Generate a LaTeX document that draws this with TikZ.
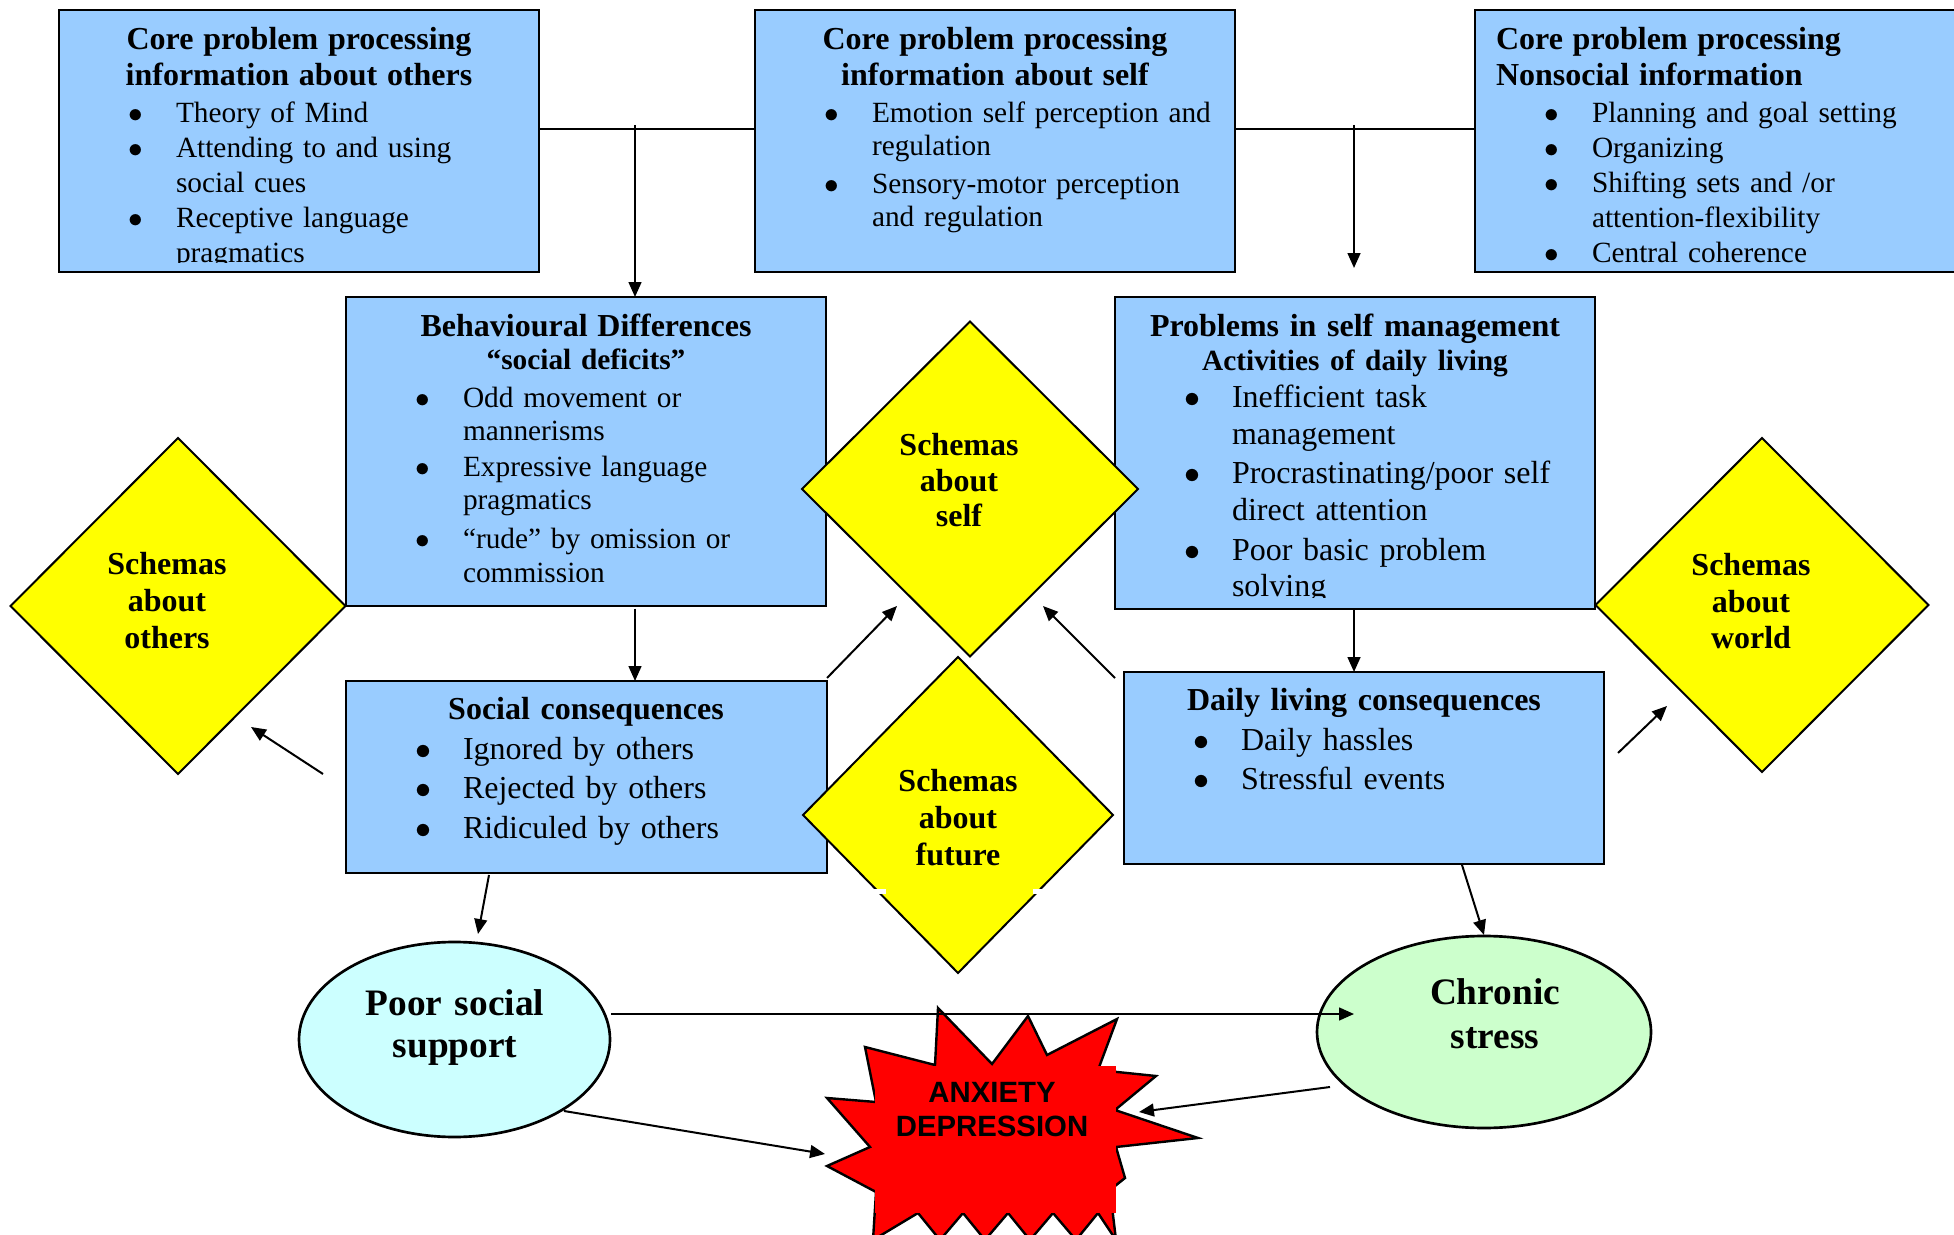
\documentclass[tikz,border=0pt]{standalone}
\usepackage{fontspec}
\setmainfont{Liberation Serif}
\newfontfamily\arialfont{Liberation Sans}
\usetikzlibrary{shapes.geometric,arrows.meta}
\newlength\px \setlength{\px}{0.375pt}
\newlength\BI \setlength{\BI}{69\px}
\newlength\BW \setlength{\BW}{48\px}
\newlength\TI \setlength{\TI}{117\px}
\newcommand\ttl[1]{\makebox[\linewidth][c]{\fontsize{12}{12}\selectfont\bfseries #1}}
\newcommand\ttlb[1]{\makebox[\linewidth][c]{\fontsize{11}{11}\selectfont\bfseries #1}}
\newcommand\ttll[1]{\hspace*{21\px}{\fontsize{12}{12}\selectfont\bfseries #1}}
\newcommand\bul[1]{\hspace*{\BI}\makebox[\BW][l]{$\bullet$}#1}
\newcommand\cnt[1]{\hspace*{\TI}#1}
\definecolor{boxblue}{HTML}{99CCFF}
\definecolor{dyellow}{HTML}{FFFF00}
\definecolor{ecyan}{HTML}{CCFFFF}
\definecolor{egreen}{HTML}{CCFFCC}
\definecolor{sred}{HTML}{FF0000}
\begin{document}
\begin{tikzpicture}[x=0.375pt, y=-0.375pt,
  box/.style={draw=black, line width=1pt, fill=boxblue, anchor=north west, inner sep=0pt, outer sep=0pt},
  dia/.style={diamond, draw=black, line width=0.75pt, fill=dyellow, inner sep=0pt, outer sep=0pt},
  ell/.style={ellipse, draw=black, line width=1pt, inner sep=0pt, outer sep=0pt},
  txt/.style={inner sep=0pt, outer sep=0pt, anchor=base west, align=left, text width=180pt},
  dtxt/.style={inner sep=0pt, outer sep=0pt, anchor=base, align=center, text width=100pt},
  ln/.style={line width=0.75pt},
  arr/.style={line width=0.75pt, -{Triangle[length=5.6pt,width=4.8pt]}}]
\path[use as bounding box] (0,0) rectangle (1954,1235);
\clip (0,0) rectangle (1954,1235);

% ---------- boxes ----------
\node[box, minimum width=180pt, minimum height=98.25pt] (A) at (59,10) {};
\node[box, minimum width=180pt, minimum height=98.25pt] (B) at (755,10) {};
\node[box, minimum width=183.75pt, minimum height=98.25pt] (C) at (1475,10) {};
\node[box, minimum width=180pt, minimum height=115.875pt] (D) at (346,297) {};
\node[box, minimum width=180pt, minimum height=117pt] (E) at (1115,297) {};
\node[box, minimum width=180.375pt, minimum height=72pt] (F) at (346,681) {};
\node[box, minimum width=180pt, minimum height=72pt] (G) at (1124,672) {};

\begin{scope}
\clip (A.north west) rectangle ([yshift=3.375pt]A.south east);
\node[txt, font=\fontsize{11}{35\px}\selectfont] (tA) at (59,50)
 {\ttl{Core problem processing}\\[1\px]
  \ttl{information about others}\\[2\px]
  \bul{Theory of Mind}\\
  \bul{Attending to and using}\\
  \cnt{social cues}\\
  \bul{Receptive language}\\
  \cnt{pragmatics}};
\end{scope}

\node[txt, font=\fontsize{11}{33\px}\selectfont] (tB) at (755,50)
 {\ttl{Core problem processing}\\[3\px]
  \ttl{information about self}\\[4\px]
  \bul{Emotion self perception and}\\
  \cnt{regulation}\\[5\px]
  \bul{Sensory-motor perception}\\
  \cnt{and regulation}};

\begin{scope}
\clip (C.north west) rectangle ([yshift=3.375pt]C.south east);
\node[txt, text width=183.75pt, font=\fontsize{11}{34.7\px}\selectfont] (tC) at (1475,50)
 {\ttll{Core problem processing}\\[1\px]
  \ttll{Nonsocial information}\\[2\px]
  \bul{Planning and goal setting}\\
  \bul{Organizing}\\[1\px]
  \bul{Shifting sets and /or}\\
  \cnt{attention-flexibility}\\
  \bul{Central coherence}};
\end{scope}

\node[txt, font=\fontsize{11}{33\px}\selectfont] (tD) at (346,337)
 {\ttl{Behavioural Differences}\\
  \ttlb{“social deficits”}\\[5\px]
  \bul{Odd movement or}\\
  \cnt{mannerisms}\\[3\px]
  \bul{Expressive language}\\
  \cnt{pragmatics}\\[6\px]
  \bul{“rude” by omission or}\\[1\px]
  \cnt{commission}};

\begin{scope}
\clip (E.north west) rectangle ([yshift=4.125pt]E.south east);
\node[txt, font=\fontsize{12}{37\px}\selectfont] (tE) at (1115,337)
 {\ttl{Problems in self management}\\[-3\px]
  \ttlb{Activities of daily living}\\
  \bul{Inefficient task}\\
  \cnt{management}\\[2\px]
  \bul{Procrastinating/poor self}\\
  \cnt{direct attention}\\[3\px]
  \bul{Poor basic problem}\\[-1\px]
  \cnt{solving}};
\end{scope}

\node[txt, font=\fontsize{12}{39\px}\selectfont] (tF) at (346,720)
 {\ttl{Social consequences}\\[1\px]
  \bul{Ignored by others}\\
  \bul{Rejected by others}\\
  \bul{Ridiculed by others}};

\node[txt, font=\fontsize{12}{39.5\px}\selectfont] (tG) at (1124,711)
 {\ttl{Daily living consequences}\\
  \bul{Daily hassles}\\
  \bul{Stressful events}};

% ---------- diamonds ----------
\node[dia, minimum width=125.625pt, minimum height=126pt] (dO) at (178,606) {};
\node[dia, minimum width=126pt, minimum height=125.625pt] (dS) at (970,489) {};
\node[dia, minimum width=116.25pt, minimum height=118.5pt] (dF) at (958,815) {};
\node[dia, minimum width=124.875pt, minimum height=125.25pt] (dW) at (1762,605) {};
\fill[white] (872,888.5) rectangle (886,893.5);
\fill[white] (1033,888.5) rectangle (1044,893.5);

\node[dtxt, font=\fontsize{12}{37\px}\selectfont\bfseries] (dOt) at (167,575) {Schemas\\about\\others};
\node[dtxt, font=\fontsize{12}{35.5\px}\selectfont\bfseries] (dSt) at (959,456) {Schemas\\about\\self};
\node[dtxt, font=\fontsize{12}{37\px}\selectfont\bfseries] (dFt) at (958,792) {Schemas\\about\\future};
\node[dtxt, font=\fontsize{12}{36.5\px}\selectfont\bfseries] (dWt) at (1751,576) {Schemas\\about\\world};

% ---------- ellipses ----------
\node[ell, fill=ecyan, minimum width=116.625pt, minimum height=73.125pt] (pss) at (454.5,1039.5) {};
\node[ell, fill=egreen, minimum width=125.25pt, minimum height=72pt] (cs) at (1484,1032) {};
\node[dtxt, font=\fontsize{14}{42\px}\selectfont\bfseries] (psst) at (455,1015) {Poor social\\support};
\node[dtxt, font=\fontsize{14}{44\px}\selectfont\bfseries] (cst) at (1495,1004) {Chronic\\stress};

% ---------- starburst ----------
\filldraw[fill=sred, draw=black, line width=0.9pt, line join=miter]
  (938,1008) -- (992,1064) -- (1028,1016) -- (1047,1055) -- (1117,1019) -- (1098,1070)
  -- (1156,1076) -- (1115,1110) -- (1198,1138) -- (1116,1147) -- (1125,1178) -- (1110,1190)
  -- (1116,1240) -- (1098,1213) -- (1076,1240) -- (1053,1213) -- (1030,1240) -- (1008,1213)
  -- (985,1240) -- (963,1213) -- (940,1240) -- (918,1213) -- (873,1240) -- (876,1192)
  -- (827,1166) -- (870,1147) -- (827,1098) -- (876,1102) -- (865,1047) -- (935,1065) -- cycle;
\fill[sred] (875,1066) rectangle (1116,1213);
\node[dtxt, text width=120pt, font=\arialfont\bfseries\fontsize{11}{34\px}\selectfont] (anx) at (992,1102) {ANXIETY\\DEPRESSION};

% ---------- connectors ----------
\coordinate (busy) at (0,129);
\coordinate (tapL) at (635,125);
\coordinate (tapR) at (1354,125);
\coordinate (endR) at (1354,268);
\draw[ln] (A.east |- busy) -- (B.west |- busy);
\draw[ln] (B.east |- busy) -- (C.west |- busy);
\draw[arr] (tapL) -- (tapL |- D.north);
\draw[arr] (tapR) -- (endR);
\draw[arr] ([yshift=-1pt]D.south -| tapL) -- (F.north -| tapL);
\draw[arr] (E.south -| tapR) -- (G.north -| tapR);

\coordinate (c1s) at (827,678);  \coordinate (c1e) at (897,606);
\coordinate (c2s) at (1115,678); \coordinate (c2e) at (1043,606);
\coordinate (c3s) at (323,774);  \coordinate (c3e) at (251,727);
\coordinate (c4s) at (1618,753); \coordinate (c4e) at (1667,706);
\coordinate (c5s) at (489,875);  \coordinate (c5e) at (478,934);
\coordinate (c6s) at (1462,865); \coordinate (c6e) at (1484,935);
\coordinate (c7s) at (611,1014); \coordinate (c7e) at (1354,1014);
\coordinate (c8s) at (564,1111); \coordinate (c8e) at (825,1154);
\coordinate (c9s) at (1330,1087); \coordinate (c9e) at (1139,1112);
\draw[arr] (c1s) -- (c1e);
\draw[arr] (c2s) -- (c2e);
\draw[arr] (c3s) -- (c3e);
\draw[arr] (c4s) -- (c4e);
\draw[arr] (c5s) -- (c5e);
\draw[arr] (c6s) -- (c6e);
\draw[arr] (c7s) -- (c7e);
\draw[arr] (c8s) -- (c8e);
\draw[arr] (c9s) -- (c9e);
\end{tikzpicture}
\end{document}
